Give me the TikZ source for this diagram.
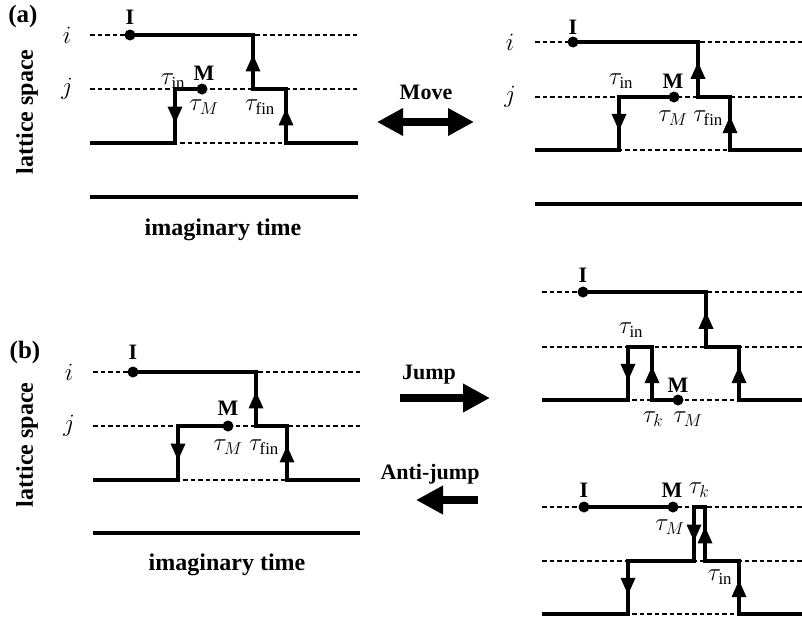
\documentclass[tikz,border=0pt]{standalone}
\usepackage{fontspec}
\setmainfont{Liberation Serif}
\usetikzlibrary{arrows.meta,decorations.markings}

\tikzset{
  wl/.style={line width=3.3pt},
  lvl/.style={line width=1.2pt, dash pattern=on 4.5pt off 3pt},
  dot/.style={circle, fill=black, inner sep=0pt, minimum size=11pt},
  midarrow/.style={line width=3.3pt, postaction={decorate},
    decoration={markings, mark=at position 0.64 with
      {\arrow{Triangle[length=17pt,width=14pt]}}}},
  bigarrow/.style={line width=7.5pt, -{Triangle[length=27pt,width=27pt]}},
  bigdarrow/.style={line width=7.5pt, {Triangle[length=26pt,width=26pt]}-{Triangle[length=26pt,width=26pt]}},
  lab/.style={font=\fontsize{24}{24}\selectfont},
  blab/.style={font=\fontsize{22}{22}\selectfont\bfseries},
  title/.style={font=\fontsize{24}{24}\selectfont\bfseries},
  panel/.style={font=\fontsize{25}{25}\selectfont\bfseries},
}

\begin{document}
\begin{tikzpicture}[x=1pt,y=-1pt]
\useasboundingbox (0,0) rectangle (802,621);

% ---------------- (a) left configuration ----------------
\node[panel] (pa) at (23,16) {(a)};
\node[title, rotate=90] (ls1) at (27,112) {lattice space};
\node[title] (it1) at (223,230) {imaginary time};
\node[lab] (i1) at (67,35) {$i$};
\node[lab] (j1) at (67,89) {$j$};
\draw[lvl] (90,35) -- (358,35);
\draw[lvl] (90,89) -- (358,89);
\draw[lvl] (90,143) -- (358,143);
\draw[wl] (90,197) -- (358,197);
\node[dot] (I1) at (130,35) {};
\node[dot] (M1) at (202,89) {};
\draw[wl] (I1.center) -- (253,35) -- (253,89) -- (286,89) -- (286,143) -- (358,143);
\draw[wl] (90,143) -- (175,143) -- (175,89) -- (M1.center);
\draw[midarrow] (253,89) -- (253,35);
\draw[midarrow] (286,143) -- (286,89);
\draw[midarrow] (175,89) -- (175,143);
\node[blab] at (130,17) {I};
\node[blab] at (204,73) {M};
\node[lab] at (173,81) {$\tau_{\mathrm{in}}$};
\node[lab] at (204,107) {$\tau_M$};
\node[lab] at (260,107) {$\tau_{\mathrm{fin}}$};

% Move
\node[blab] (mv) at (426,92) {Move};
\coordinate (mvl) at (377,122);
\coordinate (mvr) at (474,122);
\draw[bigdarrow] (mvl) -- (mvr);

% ---------------- (a) right configuration ----------------
\node[lab] (i2) at (510,42) {$i$};
\node[lab] (j2) at (510,97) {$j$};
\draw[lvl] (535,42) -- (802,42);
\draw[lvl] (535,97) -- (802,97);
\draw[lvl] (535,150) -- (802,150);
\draw[wl] (535,204) -- (802,204);
\node[dot] (I2) at (573,42) {};
\node[dot] (M2) at (674,97) {};
\draw[wl] (I2.center) -- (698,42) -- (698,97) -- (730,97) -- (730,150) -- (802,150);
\draw[wl] (535,150) -- (619,150) -- (619,97) -- (M2.center);
\draw[midarrow] (698,97) -- (698,42);
\draw[midarrow] (730,150) -- (730,97);
\draw[midarrow] (619,97) -- (619,150);
\node[blab] at (573,27) {I};
\node[blab] at (673,81) {M};
\node[lab] at (621,81) {$\tau_{\mathrm{in}}$};
\node[lab] at (673,118) {$\tau_M$};
\node[lab] at (708,118) {$\tau_{\mathrm{fin}}$};

% ---------------- (b) left configuration ----------------
\node[panel] (pb) at (25,352) {(b)};
\node[title, rotate=90] (ls2) at (27,445) {lattice space};
\node[title] (it2) at (227,565) {imaginary time};
\node[lab] (i3) at (69,372) {$i$};
\node[lab] (j3) at (69,426) {$j$};
\draw[lvl] (93,372) -- (360,372);
\draw[lvl] (93,426) -- (360,426);
\draw[lvl] (93,480) -- (360,480);
\draw[wl] (93,533) -- (360,533);
\node[dot] (I3) at (133,372) {};
\node[dot] (M3) at (228,426) {};
\draw[wl] (I3.center) -- (256,372) -- (256,426) -- (287,426) -- (287,480) -- (360,480);
\draw[wl] (93,480) -- (178,480) -- (178,426) -- (M3.center);
\draw[midarrow] (256,426) -- (256,372);
\draw[midarrow] (287,480) -- (287,426);
\draw[midarrow] (178,426) -- (178,480);
\node[blab] at (133,352) {I};
\node[blab] at (228,408) {M};
\node[lab] at (228,447) {$\tau_M$};
\node[lab] at (264,447) {$\tau_{\mathrm{fin}}$};

% Jump / Anti-jump
\node[blab] (jp) at (429,375) {Jump};
\coordinate (jpl) at (400,398);
\coordinate (jpr) at (490,398);
\draw[bigarrow] (jpl) -- (jpr);
\node[blab] (ajp) at (430,474) {Anti-jump};
\coordinate (ajr) at (478,500);
\coordinate (ajl) at (416,500);
\draw[bigarrow] (ajr) -- (ajl);

% ---------------- (b) upper right configuration ----------------
\draw[lvl] (542,292) -- (802,292);
\draw[lvl] (542,347) -- (802,347);
\draw[lvl] (542,400) -- (802,400);
\node[dot] (I4) at (583,292) {};
\node[dot] (M4) at (678,400) {};
\draw[wl] (I4.center) -- (706,292) -- (706,347) -- (739,347) -- (739,400) -- (802,400);
\draw[wl] (542,400) -- (628,400) -- (628,347) -- (652,347) -- (652,400) -- (M4.center);
\draw[midarrow] (706,347) -- (706,292);
\draw[midarrow] (739,400) -- (739,347);
\draw[midarrow] (628,347) -- (628,400);
\draw[midarrow] (652,400) -- (652,347);
\node[blab] at (583,275) {I};
\node[blab] at (678,385) {M};
\node[lab] at (631,330) {$\tau_{\mathrm{in}}$};
\node[lab] at (653,419) {$\tau_k$};
\node[lab] at (688,419) {$\tau_M$};

% ---------------- (b) lower right configuration ----------------
\draw[lvl] (542,507) -- (802,507);
\draw[lvl] (542,561) -- (802,561);
\draw[lvl] (542,614) -- (802,614);
\node[dot] (I5) at (584,507) {};
\node[dot] (M5) at (673,507) {};
\draw[wl] (I5.center) -- (M5.center);
\draw[wl] (542,614) -- (628,614) -- (628,561) -- (694,561) -- (694,507) -- (705,507) -- (705,561) -- (739,561) -- (739,614) -- (802,614);
\draw[midarrow] (628,561) -- (628,614);
\draw[midarrow] (694,507) -- (694,561);
\draw[midarrow] (705,561) -- (705,507);
\draw[midarrow] (739,614) -- (739,561);
\node[blab] at (584,490) {I};
\node[blab] at (672,490) {M};
\node[lab] at (699,490) {$\tau_k$};
\node[lab] at (670,527) {$\tau_M$};
\node[lab] at (720,577) {$\tau_{\mathrm{in}}$};
\end{tikzpicture}
\end{document}
